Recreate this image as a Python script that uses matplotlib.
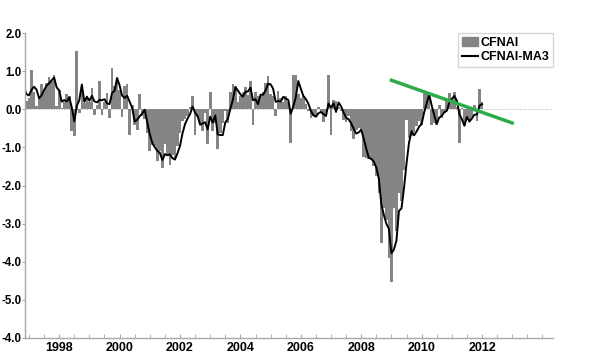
import matplotlib
matplotlib.use("Agg")
import matplotlib.pyplot as plt
from matplotlib.lines import Line2D
from matplotlib.patches import Patch
from matplotlib.ticker import MultipleLocator
import pandas as pd

plt.rcParams['font.family'] = ['Liberation Sans', 'DejaVu Sans']
plt.rcParams['font.weight'] = 'bold'

# monthly CFNAI readings, Nov 1996 .. Jan 2012
first_month = '1996-11'
cfnai = [
    0.58, 0.21,                                                                     # 1996
    0.30, 1.02, 0.45, 0.08, 0.34, 0.67, 0.50, 0.69, 0.85, 0.74, 0.90, 0.08,         # 1997
    0.50, 0.02, 0.20, 0.39, 0.34, -0.58, -0.71, 1.54, -0.11, 0.52, 0.17, 0.30,      # 1998
    0.20, 0.56, -0.14, 0.12, 0.75, -0.16, 0.20, 0.43, -0.23, 1.08, 0.60, 0.78,      # 1999
    0.50, -0.21, 0.60, 0.67, -0.68, 0.12, -0.40, -0.54, 0.39, -0.18, -0.25, -0.62,  # 2000
    -1.10, -0.93, -0.97, -1.37, -1.10, -1.53, -0.90, -1.19, -1.46, -1.20, -1.30, -0.97,  # 2001
    -0.62, -0.30, -0.25, -0.18, 0.05, 0.34, -0.67, -0.20, -0.35, -0.57, -0.10, -0.92,    # 2002
    0.44, -0.57, -0.36, -1.05, -0.62, -0.36, -0.05, -0.36, 0.44, 0.66, 0.62, 0.20,  # 2003
    0.35, 0.44, 0.59, 0.37, 0.74, -0.40, 0.45, 0.35, 0.34, 0.45, 0.69, 0.87,        # 2004
    0.40, 0.35, -0.17, 0.47, 0.30, 0.20, 0.34, 0.20, -0.89, 0.91, 0.91, 0.40,       # 2005
    0.30, 0.35, 0.15, -0.05, -0.23, -0.19, -0.17, 0.05, -0.10, -0.33, -0.10, 0.89,  # 2006
    -0.67, 0.25, 0.21, 0.07, -0.05, -0.27, -0.34, -0.18, -0.58, -0.78, -0.55, -0.49,     # 2007
    -0.58, -1.24, -1.28, -1.30, -1.32, -1.50, -1.76, -2.20, -3.52, -2.60, -2.90, -3.90,  # 2008
    -4.53, -2.60, -3.20, -2.20, -2.40, -1.60, -0.27, -0.75, -0.70, -0.60, -0.45, -0.32,  # 2009
    -0.40, 0.47, 0.39, 0.30, -0.40, -0.35, -0.40, 0.10, -0.23, -0.10, 0.21, 0.43,   # 2010
    0.17, 0.45, 0.05, -0.88, 0.04, -0.45, -0.20, -0.32, -0.20, 0.10, -0.32, 0.52,   # 2011
    0.20,                                                                           # 2012
]

# hand-drawn green trend line
trend_x = [2009.0, 2013.0]
trend_y = [0.76, -0.36]

ytick_vals = [2, 1, 0, -1, -2, -3, -4, -5, -6]
ytick_labels = ['2.0', '1.0', '0.0', '-1.0', '-2.0', '-3.0', '-4.0', '-5.0', '-4.0']
year_labels = list(range(1998, 2013, 2))

months = pd.period_range(first_month, periods=len(cfnai), freq='M')
t = months.year + (months.month - 1) / 12.0
ma3 = pd.Series(cfnai).rolling(3, min_periods=1).mean()

fig = plt.figure(figsize=(6.14, 3.6), dpi=100)
ax = fig.add_axes([25 / 614, 22 / 360, 528 / 614, 305 / 360])

ax.axhline(0, color='#b0b0b0', lw=0.7, ls=':', zorder=0.5)
ax.bar(t, cfnai, width=0.088, color='#858585', linewidth=0, zorder=1)
ax.plot(t, ma3, color='black', lw=1.4, zorder=2)
ax.plot(trend_x, trend_y, color='#2eaa4a', lw=2.5, zorder=3)

ax.set_xlim(1996.868, 2014.35)
ax.set_ylim(-6, 2)

for side in ['top', 'right']:
    ax.spines[side].set_visible(False)
for side in ['left', 'bottom']:
    ax.spines[side].set_color('#a8a8a8')
    ax.spines[side].set_linewidth(1)

ax.set_yticks(ytick_vals, ytick_labels)
ax.set_xticks(year_labels, [str(y) for y in year_labels])
ax.xaxis.set_minor_locator(MultipleLocator(0.5))
ax.tick_params(axis='y', direction='out', length=2, color='#a8a8a8', pad=0.5, labelsize=8.3)
ax.tick_params(axis='x', which='both', direction='in', length=3, color='#a8a8a8', pad=3, labelsize=9)

handles = [Patch(color='#858585'), Line2D([], [], color='black', lw=1.5)]
ax.legend(handles, ['CFNAI', 'CFNAI-MA3'], loc='upper right', bbox_to_anchor=(1.0, 1.0),
          frameon=True, fancybox=False, edgecolor='#cccccc', fontsize=9,
          handlelength=1.3, handletextpad=0.2, borderpad=0.3, labelspacing=0.2,
          borderaxespad=0)

fig.savefig('out.png', dpi=100)
